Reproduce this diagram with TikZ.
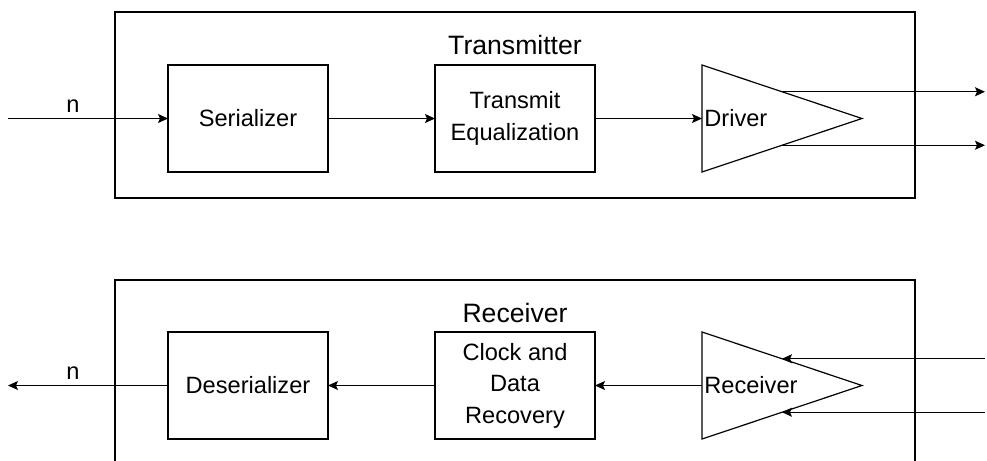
\documentclass[tikz,border=0pt]{standalone}
\usepackage{fontspec}
\setmainfont{Liberation Sans}
\usetikzlibrary{
  arrows.meta,
  calc,
  positioning,
  shapes.geometric
}
\tikzset{
  >={Stealth[length=5pt,width=4.5pt,inset=1pt]},
  line/.style={draw=black, line width=0.6pt, ->},
  frame/.style={
    draw=black,
    line width=0.6pt,
    rectangle,
    minimum width=400pt,
    minimum height=93pt,
    inner sep=0pt,
    outer sep=0pt
  },
  block/.style={
    draw=black,
    line width=0.6pt,
    fill=white,
    rectangle,
    align=center,
    minimum width=80pt,
    minimum height=53.5pt,
    inner sep=0pt,
    outer sep=0pt,
    font=\fontsize{11.8}{15.7}\selectfont
  },
  amp/.style={
    draw=black,
    line width=0.6pt,
    fill=white,
    isosceles triangle,
    isosceles triangle stretches,
    shape border rotate=0,
    minimum width=53.5pt,
    minimum height=80pt,
    inner sep=0pt,
    outer sep=0pt
  },
  amplabel/.style={anchor=west, inner sep=1pt, font=\fontsize{11.8}{14}\selectfont},
  title/.style={font=\fontsize{13.3}{16}\selectfont},
  buslabel/.style={font=\fontsize{11.8}{14}\selectfont}
}

\begin{document}
\begin{tikzpicture}
  \useasboundingbox (0,0) rectangle (493.5pt,-230.5pt);
  \coordinate (leftedge) at (4pt,0);
  \coordinate (rightedge) at (492.5pt,0);

  % transmitter
  \node[frame] (txframe) at (257.5pt,-52.5pt) {};
  \node[title] (txtitle) at ($(txframe.north)+(0,-16.5pt)$) {Transmitter};

  \node[block] (ser) at (124pt,-59.25pt) {Serializer};
  \node[block, right=53.5pt of ser] (teq) {Transmit\\Equalization};
  \node[amp, right=53.5pt of teq] (drv) {};
  \node[amplabel] (drvtext) at (drv.west) {Driver};

  \coordinate (drvtop) at ($(drv.left corner)!0.5!(drv.apex)$);
  \coordinate (drvbot) at ($(drv.right corner)!0.5!(drv.apex)$);

  \draw[line] (ser.west -| leftedge) -- (ser.west);
  \node[buslabel] (txn) at (36.5pt,-52.9pt) {n};
  \draw[line] (ser) -- (teq);
  \draw[line] (teq) -- (drv.west);
  \draw[line] (drvtop) -- (drvtop -| rightedge);
  \draw[line] (drvbot) -- (drvbot -| rightedge);

  % receiver
  \node[frame] (rxframe) at (257.5pt,-186.5pt) {};
  \node[title] (rxtitle) at ($(rxframe.north)+(0,-16.5pt)$) {Receiver};

  \node[block] (des) at (124pt,-192.75pt) {Deserializer};
  \node[block, right=53.5pt of des] (cdr) {Clock and\\Data\\Recovery};
  \node[amp, right=53.5pt of cdr] (rcv) {};
  \node[amplabel] (rcvtext) at (rcv.west) {Receiver};

  \coordinate (rcvtop) at ($(rcv.left corner)!0.5!(rcv.apex)$);
  \coordinate (rcvbot) at ($(rcv.right corner)!0.5!(rcv.apex)$);

  \draw[line] (rcvtop -| rightedge) -- (rcvtop);
  \draw[line] (rcvbot -| rightedge) -- (rcvbot);
  \draw[line] (rcv.west) -- (cdr);
  \draw[line] (cdr) -- (des);
  \draw[line] (des.west) -- (des.west -| leftedge);
  \node[buslabel] (rxn) at (36.5pt,-186.5pt) {n};
\end{tikzpicture}
\end{document}
